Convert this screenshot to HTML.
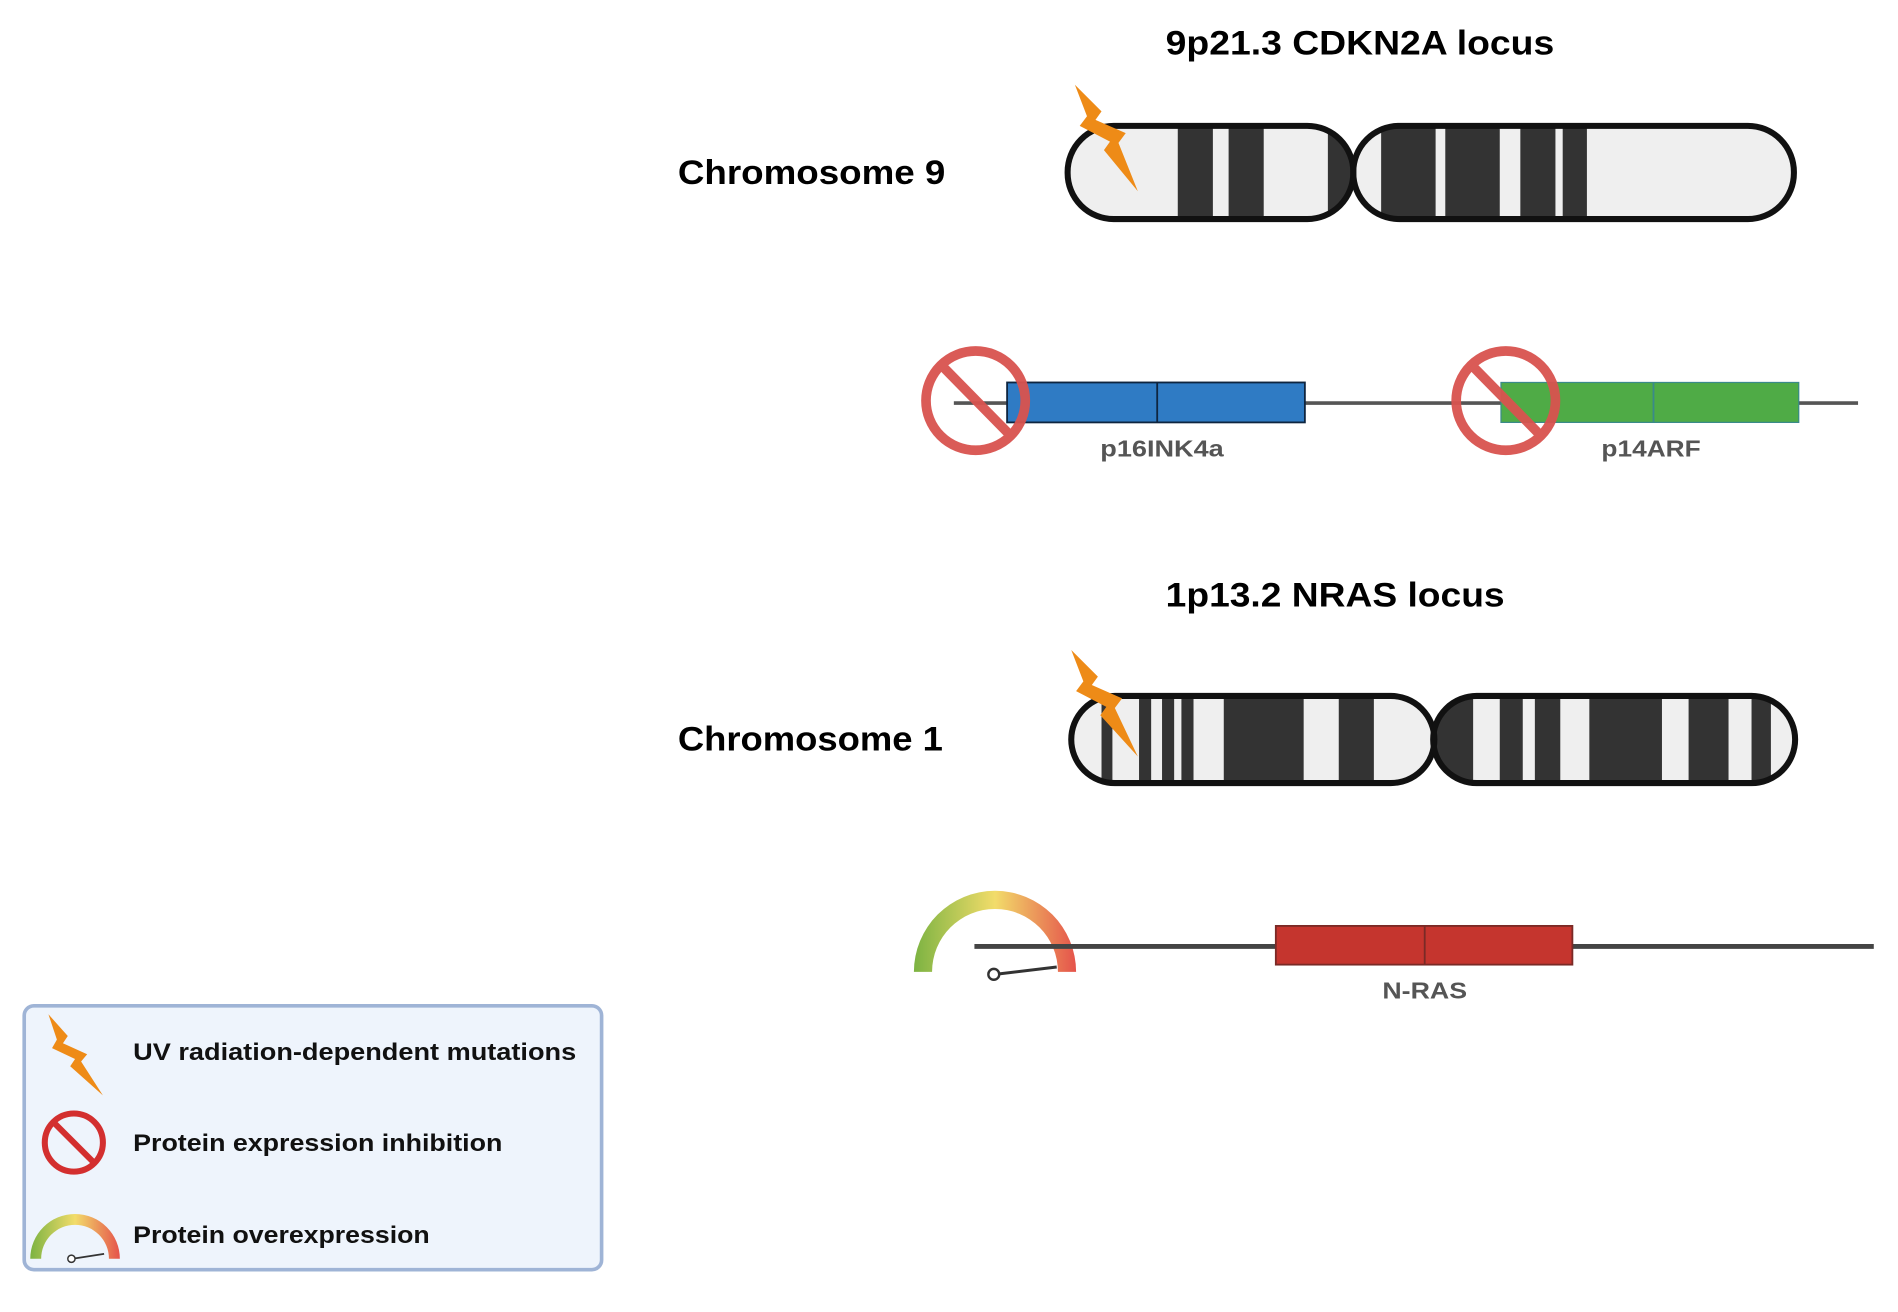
<!DOCTYPE html>
<html><head><meta charset="utf-8"><style>
html,body{margin:0;padding:0;background:#fff;}
svg{display:block;}
text{font-family:"Liberation Sans",Arial,sans-serif;}
</style></head><body>
<svg width="1898" height="1312" viewBox="0 0 1568 1084" preserveAspectRatio="none" xmlns="http://www.w3.org/2000/svg">
<defs>
<linearGradient id="g" x1="0" y1="0" x2="1" y2="0">
<stop offset="0" stop-color="#7cb342"/><stop offset="0.5" stop-color="#f2dc6a"/><stop offset="1" stop-color="#e5534b"/>
</linearGradient>
<clipPath id="c9l"><rect x="882" y="104" width="236" height="77" rx="38"/></clipPath>
<clipPath id="c9r"><rect x="1118" y="104" width="364" height="77" rx="38"/></clipPath>
<clipPath id="c1l"><rect x="885" y="575" width="300" height="72" rx="36"/></clipPath>
<clipPath id="c1r"><rect x="1184" y="575" width="299" height="72" rx="36"/></clipPath>
</defs>

<text x="963" y="45" font-size="28" font-weight="bold" textLength="321" lengthAdjust="spacingAndGlyphs">9p21.3 CDKN2A locus</text>
<text x="560" y="152" font-size="28" font-weight="bold" textLength="221" lengthAdjust="spacingAndGlyphs">Chromosome 9</text>
<text x="963" y="501" font-size="28" font-weight="bold" textLength="280" lengthAdjust="spacingAndGlyphs">1p13.2 NRAS locus</text>
<text x="560" y="620" font-size="28" font-weight="bold" textLength="219" lengthAdjust="spacingAndGlyphs">Chromosome 1</text>

<g clip-path="url(#c9l)">
<rect x="880" y="100" width="240" height="85" fill="#efefef"/>
<rect x="973" y="100" width="29" height="85" fill="#333"/>
<rect x="1015" y="100" width="29" height="85" fill="#333"/>
<rect x="1097" y="100" width="23" height="85" fill="#333"/>
</g>
<g clip-path="url(#c9r)">
<rect x="1116" y="100" width="370" height="85" fill="#efefef"/>
<rect x="1141" y="100" width="45" height="85" fill="#333"/>
<rect x="1194" y="100" width="45" height="85" fill="#333"/>
<rect x="1256" y="100" width="29" height="85" fill="#333"/>
<rect x="1291" y="100" width="20" height="85" fill="#333"/>
</g>
<rect x="882" y="104" width="236" height="77" rx="38" fill="none" stroke="#111" stroke-width="5"/>
<rect x="1118" y="104" width="364" height="77" rx="38" fill="none" stroke="#111" stroke-width="5"/>
<polygon points="888,70 910,92 905,99 930,110 924,118 940,158 912,124 917,117 892,104 898,96" fill="#ee8b17"/>

<line x1="788" y1="333" x2="1535" y2="333" stroke="#555" stroke-width="3"/>
<rect x="832" y="316" width="246" height="33" fill="#2f7bc4" stroke="#0e2540" stroke-width="1.5"/>
<line x1="956" y1="316" x2="956" y2="349" stroke="#0e2540" stroke-width="1.5"/>
<rect x="1240" y="316" width="246" height="33" fill="#4fab46" stroke="#3a8a8a" stroke-width="1"/>
<line x1="1366" y1="316" x2="1366" y2="349" stroke="#3a8a8a" stroke-width="1.5"/>
<g stroke="#d9534f" stroke-width="8" fill="none" opacity="0.95">
<circle cx="806" cy="331" r="41"/><line x1="778" y1="302" x2="835" y2="360"/>
<circle cx="1244" cy="331" r="41"/><line x1="1216" y1="302" x2="1273" y2="360"/>
</g>
<text x="909" y="377" font-size="19" font-weight="bold" fill="#555" textLength="102" lengthAdjust="spacingAndGlyphs">p16INK4a</text>
<text x="1323" y="377" font-size="19" font-weight="bold" fill="#555" textLength="82" lengthAdjust="spacingAndGlyphs">p14ARF</text>

<g clip-path="url(#c1l)">
<rect x="880" y="570" width="310" height="85" fill="#efefef"/>
<rect x="910" y="570" width="9" height="85" fill="#333"/>
<rect x="941" y="570" width="10" height="85" fill="#333"/>
<rect x="960" y="570" width="10" height="85" fill="#333"/>
<rect x="976" y="570" width="10" height="85" fill="#333"/>
<rect x="1011" y="570" width="66" height="85" fill="#333"/>
<rect x="1106" y="570" width="29" height="85" fill="#333"/>
</g>
<g clip-path="url(#c1r)">
<rect x="1180" y="570" width="310" height="85" fill="#efefef"/>
<rect x="1180" y="570" width="37" height="85" fill="#333"/>
<rect x="1239" y="570" width="19" height="85" fill="#333"/>
<rect x="1268" y="570" width="21" height="85" fill="#333"/>
<rect x="1313" y="570" width="60" height="85" fill="#333"/>
<rect x="1395" y="570" width="33" height="85" fill="#333"/>
<rect x="1447" y="570" width="16" height="85" fill="#333"/>
</g>
<rect x="885" y="575" width="300" height="72" rx="36" fill="none" stroke="#111" stroke-width="5"/>
<rect x="1184" y="575" width="299" height="72" rx="36" fill="none" stroke="#111" stroke-width="5"/>
<polygon points="885,537 907,559 902,566 927,577 921,585 940,625 909,591 914,584 889,571 895,563" fill="#ee8b17"/>

<path d="M755,803 A67,67 0 0 1 889,803 L874,803 A52,52 0 0 0 770,803 Z" fill="url(#g)"/>
<line x1="805" y1="782" x2="1548" y2="782" stroke="#444" stroke-width="4"/>
<rect x="1054" y="765" width="245" height="32" fill="#c5352e" stroke="#7a2a26" stroke-width="1.5"/>
<line x1="1177" y1="765" x2="1177" y2="797" stroke="#7a2a26" stroke-width="1.5"/>
<line x1="822" y1="805" x2="873" y2="799" stroke="#333" stroke-width="2.5"/>
<circle cx="821" cy="805" r="4.5" fill="#fff" stroke="#333" stroke-width="2"/>
<text x="1142" y="825" font-size="19" font-weight="bold" fill="#555" textLength="70" lengthAdjust="spacingAndGlyphs">N-RAS</text>

<rect x="20" y="831" width="477" height="218" rx="8" fill="#eef4fc" stroke="#9fb4d6" stroke-width="3"/>
<polygon points="40,838 56,856 52,862 72,871 67,877 85,905 58,881 62,875 43,866 47,859" fill="#ee8b17"/>
<text x="110" y="876" font-size="20" font-weight="bold" fill="#111" textLength="366" lengthAdjust="spacingAndGlyphs">UV radiation-dependent mutations</text>
<g stroke="#d32f2f" stroke-width="5" fill="none">
<circle cx="61" cy="944" r="24"/><line x1="44" y1="927" x2="78" y2="961"/>
</g>
<text x="110" y="951" font-size="20" font-weight="bold" fill="#111" textLength="305" lengthAdjust="spacingAndGlyphs">Protein expression inhibition</text>
<path d="M25,1040 A37,37 0 0 1 99,1040 L90,1040 A28,28 0 0 0 34,1040 Z" fill="url(#g)"/>
<line x1="60" y1="1040" x2="86" y2="1036" stroke="#333" stroke-width="1.5"/>
<circle cx="59" cy="1040" r="3" fill="#fff" stroke="#333" stroke-width="1.2"/>
<text x="110" y="1027" font-size="20" font-weight="bold" fill="#111" textLength="245" lengthAdjust="spacingAndGlyphs">Protein overexpression</text>
</svg>
</body></html>
